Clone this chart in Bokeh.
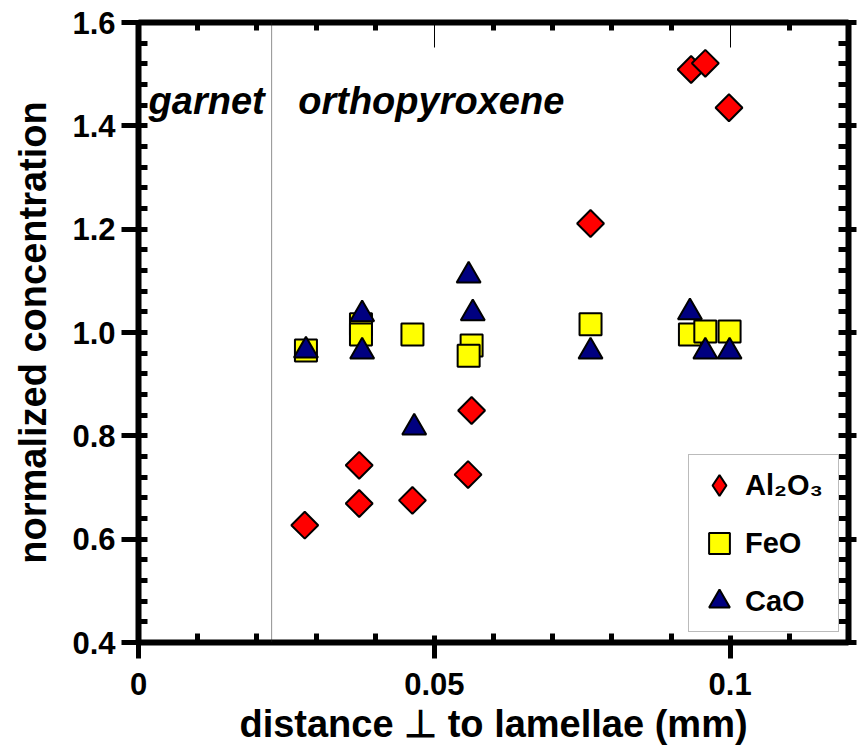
from bokeh.plotting import figure
from bokeh.models import (Range1d, LinearAxis, FixedTicker, Span, Label, Legend, LegendItem)
from bokeh.embed import file_html
from bokeh.resources import INLINE
import math

# ---- data ----
x_al = [0.0281, 0.0373, 0.0373, 0.0463, 0.0557, 0.0563, 0.0764, 0.0934, 0.0958, 0.0998]
y_al = [0.627, 0.743, 0.669, 0.675, 0.725, 0.849, 1.211, 1.509, 1.521, 1.435]

x_fe = [0.0283, 0.0376, 0.0376, 0.0463, 0.0563, 0.0558, 0.0764, 0.0932, 0.0958, 0.0999]
y_fe = [0.965, 1.016, 0.996, 0.996, 0.975, 0.955, 1.016, 0.996, 1.002, 1.002]

x_ca = [0.0283, 0.0378, 0.0378, 0.0466, 0.0558, 0.0565, 0.0764, 0.0932, 0.0958, 0.0999]
y_ca = [0.965, 1.035, 0.963, 0.816, 1.110, 1.037, 0.963, 1.039, 0.963, 0.963]

x_ticks = [0, 0.05, 0.1]
x_tick_labels = ["0", "0.05", "0.1"]
x_minor = [0.01, 0.02, 0.03, 0.04, 0.06, 0.07, 0.08, 0.09, 0.11]
y_ticks = [0.4, 0.6, 0.8, 1.0, 1.2, 1.4, 1.6]
y_tick_labels = ["0.4", "0.6", "0.8", "1.0", "1.2", "1.4", "1.6"]
y_minor = [0.44, 0.48, 0.52, 0.56, 0.64, 0.68, 0.72, 0.76, 0.84, 0.88, 0.92, 0.96,
           1.04, 1.08, 1.12, 1.16, 1.24, 1.28, 1.32, 1.36, 1.44, 1.48, 1.52, 1.56]
boundary_x = 0.0225
series_names = ["Al\u2082O\u2083", "FeO", "CaO"]
region_names = ["garnet", "orthopyroxene"]

FONT = "Liberation Sans"

p = figure(width=857, height=747, output_backend="svg", toolbar_location=None,
           x_range=Range1d(0, 0.12), y_range=Range1d(0.4, 1.6),
           min_border_left=138, min_border_right=9, min_border_top=22, min_border_bottom=105,
           outline_line_color=None, background_fill_color="white", border_fill_color="white")
p.xgrid.visible = False
p.ygrid.visible = False

def style_axis(ax, tick_out, tick_in, minor_in, major_w=5, labels=True):
    ax.axis_line_width = 6
    ax.axis_line_color = "black"
    ax.major_tick_line_width = major_w
    ax.major_tick_line_color = "black"
    ax.major_tick_out = tick_out
    ax.major_tick_in = tick_in
    ax.minor_tick_line_width = 5
    ax.minor_tick_line_color = "black"
    ax.minor_tick_out = 0
    ax.minor_tick_in = minor_in
    ax.major_label_text_font = FONT
    ax.major_label_text_font_style = "bold"
    ax.major_label_text_font_size = "31px"
    ax.major_label_text_color = "black"
    ax.axis_label_text_font = FONT
    ax.axis_label_text_font_style = "bold"
    ax.axis_label_text_color = "black"
    if not labels:
        ax.major_label_text_font_size = "1px"
        ax.major_label_text_color = None
        ax.major_label_text_alpha = 0
        ax.major_label_standoff = 0

xt = FixedTicker(ticks=x_ticks, minor_ticks=x_minor)
yt = FixedTicker(ticks=y_ticks, minor_ticks=y_minor)

xa = p.xaxis[0]
xa.ticker = xt
xa.major_label_overrides = dict(zip(x_ticks, x_tick_labels))
style_axis(xa, 16, 7, 9)
xa.major_label_standoff = 14
xa.axis_label = "distance \u22a5 to lamellae (mm)"
xa.axis_label_text_font_size = "38px"
xa.axis_label_standoff = 5

ya = p.yaxis[0]
ya.ticker = yt
ya.major_label_overrides = dict(zip(y_ticks, y_tick_labels))
style_axis(ya, 17, 9, 9)
ya.major_label_standoff = 6
ya.axis_label = "normalized concentration"
ya.axis_label_text_font_size = "38px"
ya.axis_label_standoff = 15

top = LinearAxis(ticker=FixedTicker(ticks=x_ticks, minor_ticks=x_minor))
style_axis(top, 0, 25, 8, major_w=1, labels=False)
p.add_layout(top, "above")

right = LinearAxis(ticker=FixedTicker(ticks=y_ticks, minor_ticks=y_minor))
style_axis(right, 8, 10, 10, labels=False)
p.add_layout(right, "right")

p.add_layout(Span(location=boundary_x, dimension="height", line_color="#222222",
                  line_width=1, line_dash="1 1"))

r_al = p.scatter(x_al, y_al, marker="square", size=19, angle=math.pi / 4,
                 fill_color="#FF0000", line_color="black", line_width=2)
r_fe = p.scatter(x_fe, y_fe, marker="square", size=22,
                 fill_color="#FFFF00", line_color="black", line_width=2)
r_ca = p.scatter(x_ca, y_ca, marker="triangle", size=24,
                 fill_color="#000080", line_color="black", line_width=2)
# legend swatch for Al2O3 (legend markers ignore glyph angle), not drawn in the plot
r_al_key = p.scatter(x_al, y_al, marker="diamond", size=22, visible=False,
                     fill_color="#FF0000", line_color="black", line_width=2)

p.add_layout(Label(x=0.0017, y=1.449, text=region_names[0], text_font=FONT,
                   text_font_style="bold italic", text_font_size="38px",
                   text_color="black", text_baseline="alphabetic"))
p.add_layout(Label(x=0.027, y=1.449, text=region_names[1], text_font=FONT,
                   text_font_style="bold italic", text_font_size="38px",
                   text_color="black", text_baseline="alphabetic"))

legend = Legend(items=[LegendItem(label=series_names[0], renderers=[r_al_key]),
                       LegendItem(label=series_names[1], renderers=[r_fe]),
                       LegendItem(label=series_names[2], renderers=[r_ca])],
                location=(550, 10), padding=4, spacing=6, glyph_width=52, glyph_height=52,
                label_standoff=-8, label_width=89, label_text_font=FONT,
                label_text_font_style="bold", label_text_font_size="29px",
                label_text_color="black",
                border_line_color="#777777", border_line_width=1,
                background_fill_color="white", background_fill_alpha=1.0, margin=0)
p.add_layout(legend, "center")

open("out.html", "w").write(file_html(p, INLINE))
